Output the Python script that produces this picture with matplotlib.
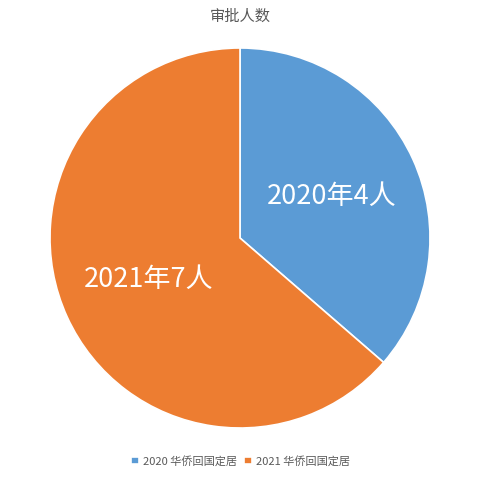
import matplotlib.pyplot as plt

plt.rcParams['font.family'] = ['Noto Sans CJK SC', 'DejaVu Sans']

# datos
anios = ["2020", "2021"]
personas = [4, 7]
leyenda = ["2020 华侨回国定居", "2021 华侨回国定居"]
colores = ["#5B9BD5", "#ED7D31"]

fig = plt.figure(figsize=(4.81, 4.78), dpi=100)
ax = fig.add_axes([50 / 481, 50 / 478, 380 / 481, 380 / 478])

etiquetas = [f"{a}年{p}人" for a, p in zip(anios, personas)]
wedges, textos = ax.pie(personas, colors=colores, startangle=90, counterclock=False,
                        labels=etiquetas, labeldistance=0.53,
                        wedgeprops=dict(edgecolor="white", linewidth=1.2),
                        textprops=dict(color="white", fontsize=19.5, ha="center", va="center"))
ax.set_xlim(-1, 1)
ax.set_ylim(-1, 1)
ax.set_aspect("equal")

fig.text(0.5, 1 - 16 / 478, "审批人数", ha="center", va="center", fontsize=11, color="#595959")

fig.legend(wedges, leyenda, loc="center", bbox_to_anchor=(0.5, 1 - 461 / 478), ncol=2,
           frameon=False, fontsize=8, labelcolor="#595959", handlelength=0.7, handleheight=0.7,
           handletextpad=0.4, columnspacing=0.6)

fig.savefig("out.png", dpi=100)
